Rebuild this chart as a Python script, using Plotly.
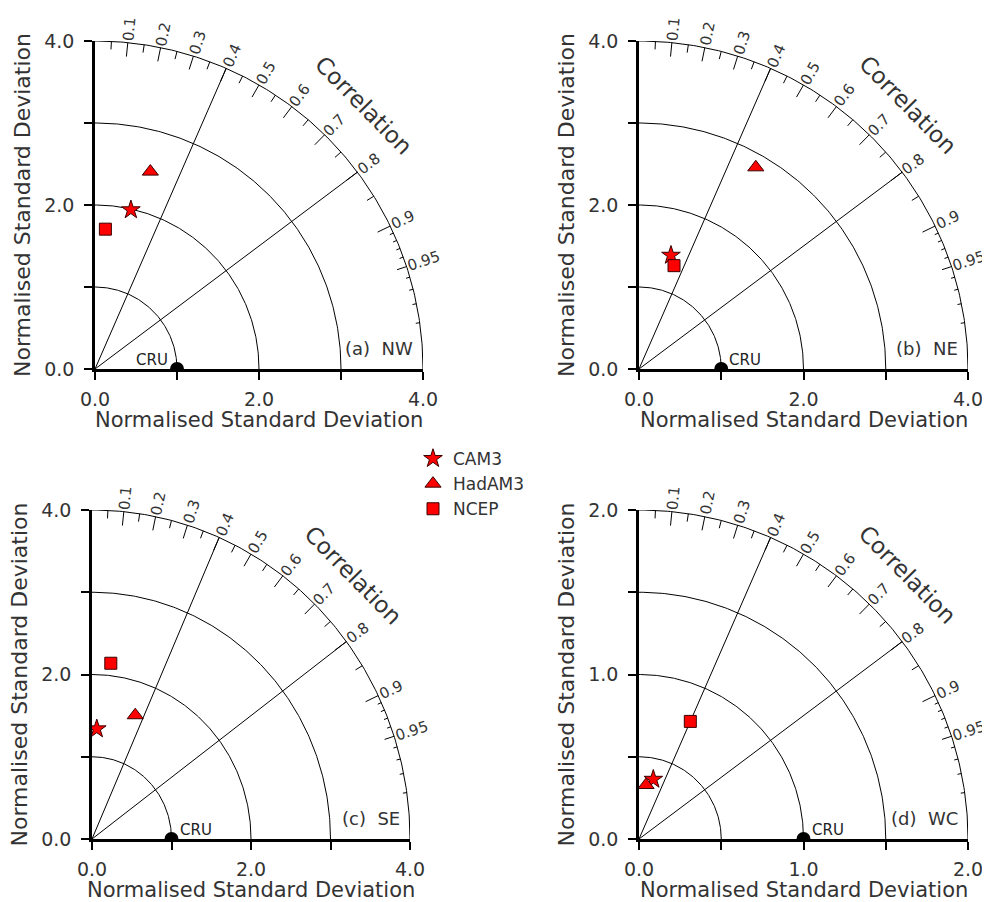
import numpy as np
import plotly.graph_objects as go

# ---------------- data ----------------
panel_labels = ["(a)  NW", "(b)  NE", "(c)  SE", "(d)  WC"]
panel_rmax = [4.0, 4.0, 4.0, 2.0]
std_tickvals = [[0, 1, 2, 3, 4], [0, 1, 2, 3, 4], [0, 1, 2, 3, 4], [0, 0.5, 1, 1.5, 2]]
std_ticktext = [["0.0", "", "2.0", "", "4.0"]] * 3 + [["0.0", "", "1.0", "", "2.0"]]

models = ["CAM3", "HadAM3", "NCEP"]
model_symbols = ["star", "triangle-up", "square"]
# normalised standard deviation and correlation, per panel (a, b, c, d)
cam3_std = [1.99, 1.44, 1.34, 0.373]
cam3_corr = [0.22, 0.27, 0.045, 0.233]
hadam3_std = [2.50, 2.84, 1.60, 0.331]
hadam3_corr = [0.27, 0.50, 0.34, 0.13]
ncep_std = [1.71, 1.33, 2.15, 0.78]
ncep_corr = [0.074, 0.32, 0.11, 0.40]
model_std = [cam3_std, hadam3_std, ncep_std]
model_corr = [cam3_corr, hadam3_corr, ncep_corr]

ref_name = "CRU"
ref_std = 1.0
ref_corr = 1.0

corr_labels = [0.1, 0.2, 0.3, 0.4, 0.5, 0.6, 0.7, 0.8, 0.9, 0.95]
corr_radial_lines = [0.4, 0.8]

# ---------------- layout geometry (pixels) ----------------
PAGE_OFF = 8  # default page body margin of the html page
W, H = 990 - PAGE_OFF, 902 - PAGE_OFF
# (x0, x1, ytop, ybottom) of each panel's plotting square, in window pixels
boxes_win = [(95, 423, 41, 369), (639, 968, 41, 369), (92, 410, 510, 839), (639, 968, 510, 839)]
boxes = [tuple(v - PAGE_OFF for v in b) for b in boxes_win]
cru_right = [True, False, False, False]  # label left of the dot in (a)

FONT = "DejaVu Sans"
TXT = "#333333"

fig = go.Figure()
annotations = []

for i in range(4):
    x0, x1, yt, yb = boxes[i]
    R = panel_rmax[i]
    sx = (x1 - x0) / R
    sy = (yb - yt) / R
    xa = "x" if i == 0 else f"x{i+1}"
    ya = "y" if i == 0 else f"y{i+1}"
    xname = "xaxis" if i == 0 else f"xaxis{i+1}"
    yname = "yaxis" if i == 0 else f"yaxis{i+1}"

    # std arcs
    th = np.linspace(0, np.pi / 2, 181)
    ax_, ay_ = [], []
    for frac in [0.25, 0.5, 0.75, 1.0]:
        rr = R * frac
        ax_ += list(rr * np.cos(th)) + [None]
        ay_ += list(rr * np.sin(th)) + [None]
    # radial correlation lines
    for c in corr_radial_lines:
        t = np.arccos(c)
        ax_ += [0, R * np.cos(t), None]
        ay_ += [0, R * np.sin(t), None]
    fig.add_trace(go.Scatter(x=ax_, y=ay_, mode="lines", line=dict(color="black", width=1),
                             hoverinfo="skip", showlegend=False, xaxis=xa, yaxis=ya))

    # correlation tick marks on outer arc (inward)
    tv, tl = [], []
    for k in range(1, 19):
        v = k * 0.05
        tv.append(v)
        tl.append(14 if k % 2 == 0 else 8)
    tv.append(0.95); tl.append(10)
    for k in [91, 92, 93, 94, 96, 97, 98, 99]:
        tv.append(k / 100); tl.append(4)
    kx, ky = [], []
    for v, L in zip(tv, tl):
        t = np.arccos(v)
        c, s = np.cos(t), np.sin(t)
        kx += [R * c, R * c - L * c / sx, None]
        ky += [R * s, R * s - L * s / sy, None]
    fig.add_trace(go.Scatter(x=kx, y=ky, mode="lines", line=dict(color="black", width=1),
                             hoverinfo="skip", showlegend=False, xaxis=xa, yaxis=ya))

    # correlation labels
    for v in corr_labels:
        t = np.arccos(v)
        c, s = np.cos(t), np.sin(t)
        txt = f"{v:g}"
        off = 1 + 4.3 * len(txt)
        annotations.append(dict(x=R * c, y=R * s, xref=xa, yref=ya, text=txt, showarrow=False,
                                xshift=off * c, yshift=off * s, textangle=-np.degrees(t),
                                xanchor="center", yanchor="middle",
                                font=dict(family=FONT, size=15, color=TXT)))
    tc = np.radians(44.5)
    annotations.append(dict(x=R * np.cos(tc), y=R * np.sin(tc), xref=xa, yref=ya, text="Correlation",
                            showarrow=False, xshift=48 * np.cos(tc), yshift=48 * np.sin(tc),
                            textangle=90 - 44.5, xanchor="center", yanchor="middle",
                            font=dict(family=FONT, size=23, color=TXT)))

    # reference point
    fig.add_trace(go.Scatter(x=[ref_std * ref_corr], y=[ref_std * np.sqrt(1 - ref_corr ** 2)],
                             mode="markers", marker=dict(symbol="circle", size=14, color="black"),
                             showlegend=False, hoverinfo="skip", xaxis=xa, yaxis=ya))
    rscale = R / 4.0
    annotations.append(dict(x=ref_std, y=0.11 * rscale, xref=xa, yref=ya, text=ref_name, showarrow=False,
                            xanchor="right" if cru_right[i] else "left",
                            xshift=-7 if cru_right[i] else 6, yanchor="middle",
                            font=dict(family=FONT, size=15, color="#222")))

    # model points
    for m in range(3):
        sd = model_std[m][i]
        cr = model_corr[m][i]
        fig.add_trace(go.Scatter(
            x=[sd * cr], y=[sd * np.sqrt(1 - cr ** 2)], mode="markers", name=models[m],
            legendgroup=models[m], showlegend=(i == 0),
            marker=dict(symbol=model_symbols[m], size=[14, 14, 12][m], color="#ff0000",
                        line=dict(color="#3a0000", width=1)),
            xaxis=xa, yaxis=ya))

    # panel label
    annotations.append(dict(x=0.975 * R, y=0.255 * rscale, xref=xa, yref=ya, text=panel_labels[i],
                            showarrow=False, xanchor="right", yanchor="middle",
                            font=dict(family=FONT, size=18, color=TXT)))

    # axes
    fig.update_layout(**{
        xname: dict(domain=[x0 / W, x1 / W], range=[0, R], anchor=ya, showgrid=False, zeroline=False,
                    automargin=False,
                    showline=True, linecolor="black", linewidth=2.5, ticks="outside", ticklen=8,
                    tickwidth=2, tickcolor="black", tickvals=std_tickvals[i], ticktext=std_ticktext[i],
                    ticklabelstandoff=3, tickfont=dict(family=FONT, size=19, color=TXT), fixedrange=True),
        yname: dict(domain=[1 - yb / H, 1 - yt / H], range=[0, R], anchor=xa, showgrid=False, zeroline=False,
                    automargin=False,
                    showline=True, linecolor="black", linewidth=2.5, ticks="outside", ticklen=8,
                    tickwidth=2, tickcolor="black", tickvals=std_tickvals[i], ticktext=std_ticktext[i],
                    ticklabelstandoff=6, tickfont=dict(family=FONT, size=19, color=TXT), fixedrange=True),
    })

    # axis titles
    annotations.append(dict(x=(x0 + x1) / 2 / W, y=1 - (yb + 51) / H, xref="paper", yref="paper",
                            text="Normalised Standard Deviation", showarrow=False,
                            xanchor="center", yanchor="middle",
                            font=dict(family=FONT, size=21, color=TXT)))
    annotations.append(dict(x=(x0 - 73) / W, y=1 - (yt + yb) / 2 / H, xref="paper", yref="paper",
                            text="Normalised Standard Deviation", showarrow=False, textangle=-90,
                            xanchor="center", yanchor="middle",
                            font=dict(family=FONT, size=22, color=TXT)))

fig.update_layout(
    template="none",
    width=W, height=H, margin=dict(l=0, r=0, t=0, b=0, autoexpand=False),
    paper_bgcolor="white", plot_bgcolor="white",
    annotations=annotations,
    legend=dict(x=(413 - PAGE_OFF) / W, y=1 - (441 - PAGE_OFF) / H, xanchor="left", yanchor="top",
                bgcolor="rgba(0,0,0,0)",
                font=dict(family=FONT, size=17, color=TXT), tracegroupgap=0, itemwidth=30),
)

fig.write_html("out.html")
